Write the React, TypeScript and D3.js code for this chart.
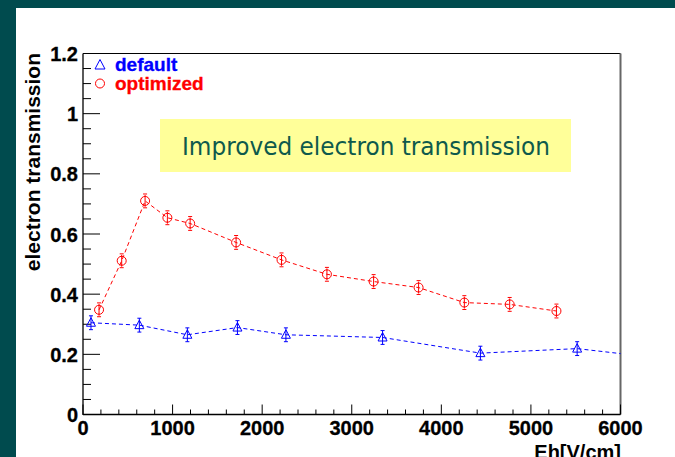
import React from "react";
import * as d3 from "d3";

const defaultX = [89, 629, 1165, 1724, 2265, 3344, 4436, 5516, 6600];
const defaultY = [0.305, 0.297, 0.265, 0.289, 0.265, 0.256, 0.204, 0.219, 0.182];
const defaultErr = [0.023, 0.023, 0.023, 0.023, 0.023, 0.023, 0.023, 0.023, 0.023];

const optX = [179, 432, 693, 942, 1196, 1709, 2216, 2723, 3244, 3746, 4257, 4763, 5285];
const optY = [0.348, 0.511, 0.71, 0.654, 0.635, 0.572, 0.514, 0.466, 0.442, 0.422, 0.372, 0.366, 0.344];
const optErr = [0.023, 0.023, 0.023, 0.023, 0.023, 0.023, 0.023, 0.023, 0.023, 0.023, 0.023, 0.023, 0.023];

const xTicks = [0, 1000, 2000, 3000, 4000, 5000, 6000];
const yTicks = [0, 0.2, 0.4, 0.6, 0.8, 1, 1.2];
const yTickLabels = ["0", "0.2", "0.4", "0.6", "0.8", "1", "1.2"];

const W = 675;
const H = 457;
const L = 83, R = 620.5, T = 53.5, B = 414.5;

export default function App() {
  const x = d3.scaleLinear().domain([0, 6000]).range([L, R]);
  const y = d3.scaleLinear().domain([0, 1.2]).range([B, T]);
  const mkPath = (xs: number[], ys: number[]) =>
    d3.line<number>().x((d) => x(d)).y((_, i) => y(ys[i]))(xs) || "";

  const xMinor = d3.range(0, 6001, 200);
  const yMinor = d3.range(0, 1.2001, 0.05);
  const font = "'Liberation Sans', Arial, sans-serif";

  return (
    <svg width={W} height={H} style={{ position: "absolute", left: 0, top: 0 }} fontFamily={font}>
      <defs>
        <clipPath id="plot">
          <rect x={L} y={T} width={R - L} height={B - T} />
        </clipPath>
      </defs>
      <rect x={0} y={0} width={W} height={H} fill="#ffffff" />
      <rect x={0} y={0} width={W} height={8} fill="#004b4e" />
      <rect x={0} y={0} width={16} height={H} fill="#004b4e" />

      {/* yellow annotation box */}
      <rect x={160} y={119} width={411} height={53} fill="#ffff99" />
      <text x={366} y={155} textAnchor="middle" fontFamily="'DejaVu Sans', Verdana, sans-serif" fontSize={25} fill="#0e5a4c" textLength={368} lengthAdjust="spacingAndGlyphs">
        Improved electron transmission
      </text>

      {/* frame */}
      <line x1={L} y1={T} x2={R} y2={T} stroke="#000" strokeWidth={1} />
      <line x1={R} y1={T} x2={R} y2={B} stroke="#666" strokeWidth={2} />
      <line x1={L} y1={T} x2={L} y2={B + 0.5} stroke="#000" strokeWidth={1.3} />
      <line x1={L} y1={B} x2={R} y2={B} stroke="#000" strokeWidth={1.3} />

      {/* ticks */}
      {xMinor.map((v) => {
        const major = v % 1000 === 0;
        return <line key={"xm" + v} x1={x(v)} x2={x(v)} y1={B} y2={B - (major ? 10 : 5)} stroke="#000" strokeWidth={1} />;
      })}
      {yMinor.map((v, i) => {
        const major = i % 4 === 0;
        return <line key={"ym" + i} x1={L} x2={L + (major ? 17 : 8)} y1={y(v)} y2={y(v)} stroke="#000" strokeWidth={1} />;
      })}

      {/* tick labels */}
      {xTicks.map((v) => (
        <text key={"xl" + v} x={x(v)} y={435} textAnchor="middle" fontSize={20} fontWeight="bold" fill="#000" stroke="#000" strokeWidth={0.3}>
          {v}
        </text>
      ))}
      {yTicks.map((v, i) => (
        <text key={"yl" + v} x={78} y={y(v) + 7.5} textAnchor="end" fontSize={20} fontWeight="bold" fill="#000" stroke="#000" strokeWidth={0.3}>
          {yTickLabels[i]}
        </text>
      ))}

      {/* axis titles */}
      <text x={621} y={459} textAnchor="end" fontSize={20} fontWeight="bold" fill="#000">
        Eh[V/cm]
      </text>
      <text transform={`translate(40,53) rotate(-90)`} textAnchor="end" fontSize={21} fontWeight="bold" fill="#000">
        electron transmission
      </text>

      {/* series */}
      <g clipPath="url(#plot)">
        <path d={mkPath(defaultX, defaultY)} fill="none" stroke="#0000ff" strokeWidth={1} strokeDasharray="4,3" />
        <path d={mkPath(optX, optY)} fill="none" stroke="#ff0000" strokeWidth={1} strokeDasharray="4,3" />

        {defaultX.map((v, i) => {
          const cx = x(v), cy = y(defaultY[i]);
          const y1 = y(defaultY[i] + defaultErr[i]), y2 = y(defaultY[i] - defaultErr[i]);
          return (
            <g key={"d" + i}>
              <line x1={cx} x2={cx} y1={y1} y2={y2} stroke="#0000ff" strokeWidth={1} />
              <line x1={cx - 2} x2={cx + 2} y1={y1} y2={y1} stroke="#0000ff" strokeWidth={1} />
              <line x1={cx - 2} x2={cx + 2} y1={y2} y2={y2} stroke="#0000ff" strokeWidth={1} />
              <path d={`M${cx},${cy - 5}L${cx + 4.5},${cy + 3.5}L${cx - 4.5},${cy + 3.5}Z`} fill="none" stroke="#0000ff" strokeWidth={1} />
            </g>
          );
        })}
        {optX.map((v, i) => {
          const cx = x(v), cy = y(optY[i]);
          const y1 = y(optY[i] + optErr[i]), y2 = y(optY[i] - optErr[i]);
          return (
            <g key={"o" + i}>
              <line x1={cx} x2={cx} y1={cy - 4.5} y2={cy + 4.5} stroke="#ff0000" strokeWidth={1} />
              <line x1={cx} x2={cx} y1={y1 + 1} y2={y1 + 3} stroke="#ff0000" strokeWidth={1} />
              <line x1={cx} x2={cx} y1={y2 - 3} y2={y2 - 1} stroke="#ff0000" strokeWidth={1} />
              <line x1={cx - 2} x2={cx + 2} y1={y1} y2={y1} stroke="#ff0000" strokeWidth={1} />
              <line x1={cx - 2} x2={cx + 2} y1={y2} y2={y2} stroke="#ff0000" strokeWidth={1} />
              <circle cx={cx} cy={cy} r={4.5} fill="none" stroke="#ff0000" strokeWidth={1} />
            </g>
          );
        })}
      </g>

      {/* legend */}
      <path d="M100,59.5L105,69L95,69Z" fill="none" stroke="#0000ff" strokeWidth={1} />
      <text x={115} y={71} fontSize={19} fontWeight="bold" fill="#0000ff" stroke="#0000ff" strokeWidth={0.3}>default</text>
      <circle cx={100} cy={83.5} r={4.5} fill="none" stroke="#ff0000" strokeWidth={1} />
      <text x={115} y={90} fontSize={19} fontWeight="bold" fill="#ff0000" stroke="#ff0000" strokeWidth={0.3}>optimized</text>
    </svg>
  );
}
